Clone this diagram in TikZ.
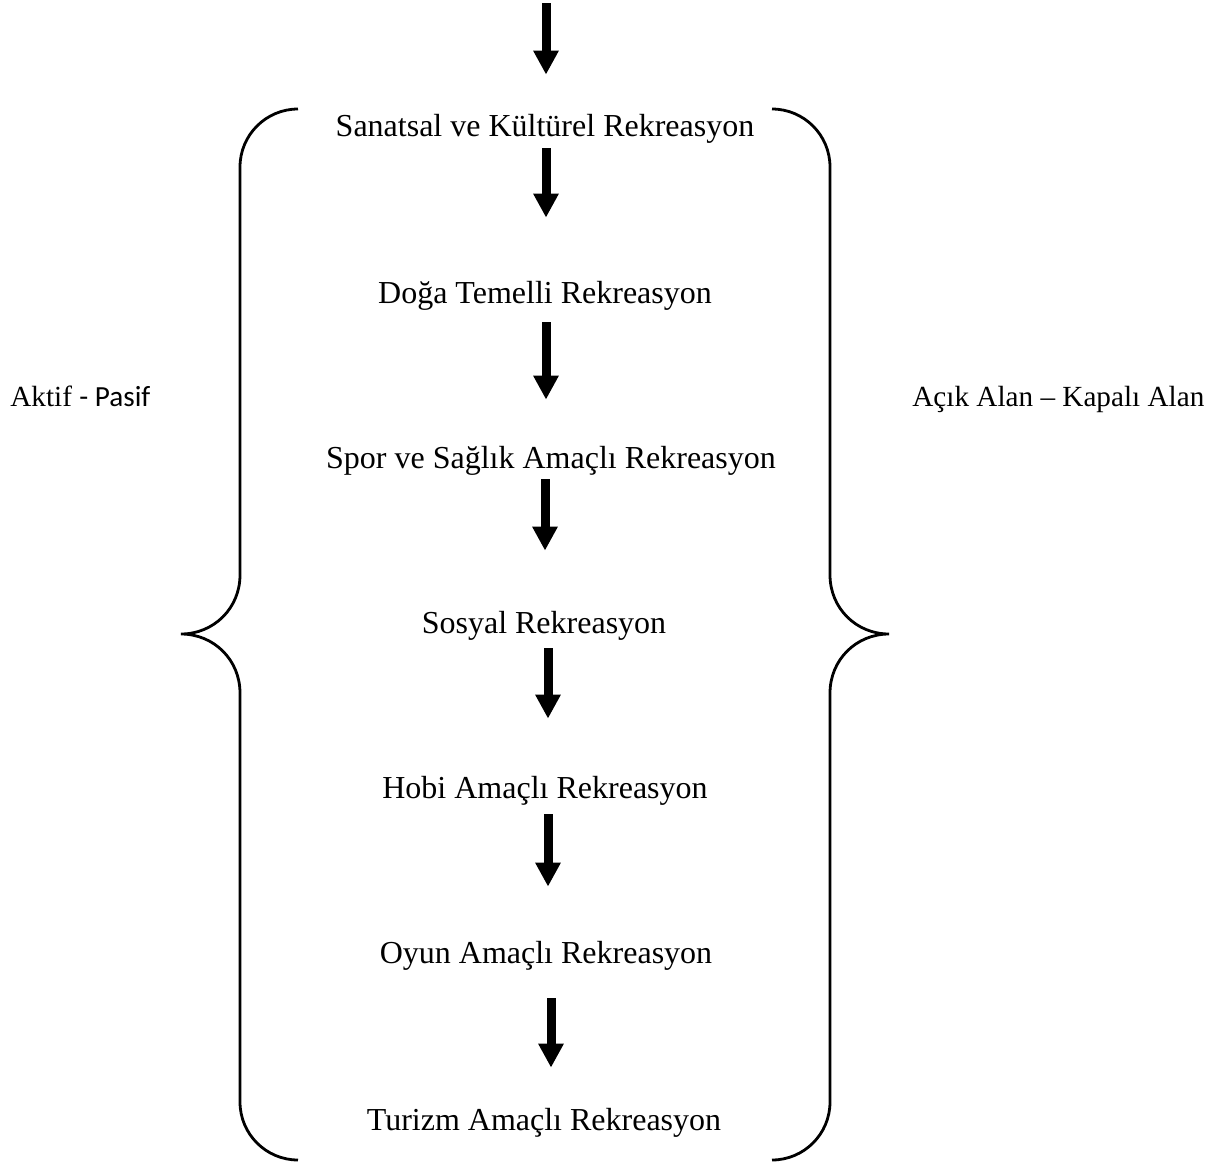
\documentclass[tikz,border=0pt]{standalone}
\usepackage{fontspec}
\setmainfont{Liberation Serif}
\newfontfamily\sansfnt{Carlito}
\usetikzlibrary{arrows.meta,positioning}
\tikzset{
  arr/.style={-{Triangle[width=12pt,length=12pt]},line width=4.5pt,black},
  lvl/.style={font=\fontsize{16}{19}\selectfont,inner sep=0pt,text height=11pt,text depth=4pt,anchor=base},
  side/.style={font=\fontsize{14.6}{17}\selectfont,inner sep=0pt,anchor=base west},
  brc/.style={line width=1.4pt,black}
}
\begin{document}
\begin{tikzpicture}[x=0.5pt,y=-0.5pt]
\useasboundingbox (0,0) rectangle (1231,1162);
% levels
\node[lvl] (t1) at (545,136) {Sanatsal ve Kültürel Rekreasyon};
\node[lvl] (t2) at (545,303) {Doğa Temelli Rekreasyon};
\node[lvl] (t3) at (551,468) {Spor ve Sağlık Amaçlı Rekreasyon};
\node[lvl] (t4) at (544,633) {Sosyal Rekreasyon};
\node[lvl] (t5) at (545,798) {Hobi Amaçlı Rekreasyon};
\node[lvl] (t6) at (546,963) {Oyun Amaçlı Rekreasyon};
\node[lvl] (t7) at (544,1130) {Turizm Amaçlı Rekreasyon};
\coordinate (top) at (546,3);
% side labels
\node[side] (lft) at (10,406) {Aktif {\sansfnt- Pasif}};
\node[side] (rgt) at (912,406) {Açık Alan – Kapalı Alan};
% arrows
\draw[arr,shorten >=19.5pt] (top) -- (top |- t1.north);
\draw[arr,shorten <=2pt,shorten >=31.5pt] ([xshift=0.5pt]t1.south) -- ([xshift=0.5pt]t1.south |- t2.north);
\draw[arr,shorten <=5.5pt,shorten >=23pt] ([xshift=0.5pt]t2.south) -- ([xshift=0.5pt]t2.south |- t3.north);
\draw[arr,shorten <=1.5pt,shorten >=30pt] ([xshift=-3pt]t3.south) -- ([xshift=-3pt]t3.south |- t4.north);
\draw[arr,shorten <=3.5pt,shorten >=28.5pt] ([xshift=2pt]t4.south) -- ([xshift=2pt]t4.south |- t5.north);
\draw[arr,shorten <=4pt,shorten >=27pt] ([xshift=1.5pt]t5.south) -- ([xshift=1.5pt]t5.south |- t6.north);
\draw[arr,shorten <=13.5pt,shorten >=20pt] ([xshift=2.5pt]t6.south) -- ([xshift=2.5pt]t6.south |- t7.north);
% braces
\draw[brc] (298,109) .. controls (266,109) and (240,135) .. (240,167) -- (240,575)
  .. controls (240,608) and (214,634) .. (181,634)
  .. controls (214,634) and (240,660) .. (240,693) -- (240,1102)
  .. controls (240,1134) and (266,1160) .. (298,1160);
\draw[brc] (772,109) .. controls (804,109) and (830,135) .. (830,167) -- (830,575)
  .. controls (830,608) and (856,634) .. (889,634)
  .. controls (856,634) and (830,660) .. (830,693) -- (830,1102)
  .. controls (830,1134) and (804,1160) .. (772,1160);
\end{tikzpicture}
\end{document}
